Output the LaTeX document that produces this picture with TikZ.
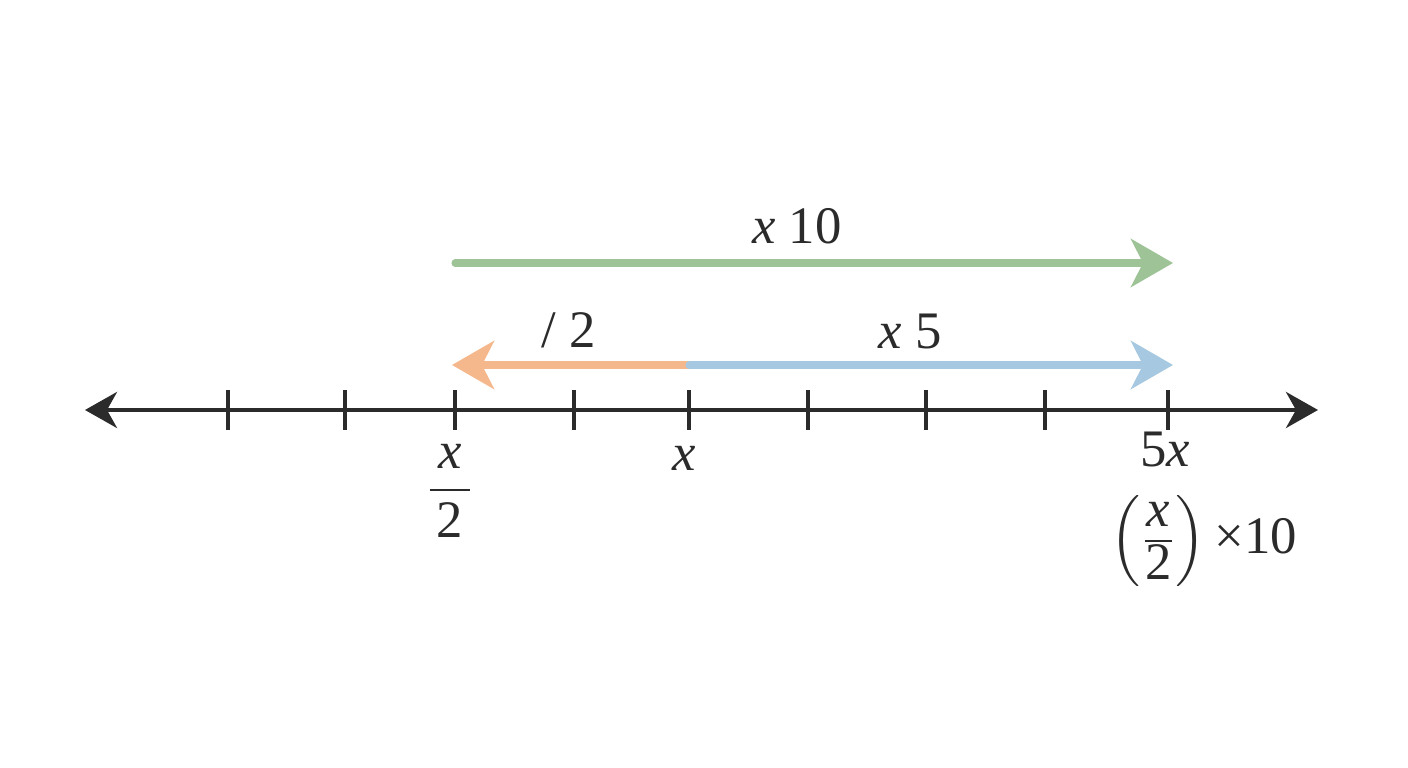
\documentclass[tikz,border=0pt]{standalone}
\usepackage{amsmath}
\usepackage{fontspec}
\setmainfont{Liberation Serif}
\usetikzlibrary{arrows.meta}

\definecolor{lineBlack}{RGB}{43,43,43}
\definecolor{timesGreen}{RGB}{157,195,150}
\definecolor{divOrange}{RGB}{244,184,140}
\definecolor{timesBlue}{RGB}{166,200,224}

\begin{document}
\begin{tikzpicture}[
        numLine/.style = {draw=lineBlack,line width=1.2pt,{Stealth[length=3.2mm,width=3.6mm,inset=1mm]}-{Stealth[length=3.2mm,width=3.6mm,inset=1mm]}},
        tickMark/.style = {draw=lineBlack,line width=1pt},
        opArrow/.style = {line width=2pt,line cap=round,-{Stealth[length=4.2mm,width=4.8mm,inset=1.2mm]}},
        opLabel/.style = {text=lineBlack,font=\fontsize{15}{18}\selectfont,inner sep=1pt},
        valLabel/.style = {text=lineBlack,font=\fontsize{15}{18}\selectfont,inner sep=1pt}
        ]
        \useasboundingbox (0,0) rectangle (14.08,7.68);
        % number line
        \coordinate (left) at (0.85,3.58);
        \coordinate (right) at (13.18,3.58);
        \draw[numLine] (left) -- (right);
        \foreach \x [count=\i] in {2.28,3.45,4.55,5.74,6.89,8.08,9.26,10.45,11.68}
        \draw[tickMark] (\x,3.38) coordinate (b\i) -- (\x,3.78) coordinate (t\i);
        % operation arrows
        \coordinate (gStart) at (4.55,5.05);
        \coordinate (gEnd) at (11.73,5.05);
        \coordinate (mid) at (6.89,4.03);
        \coordinate (oEnd) at (4.52,4.03);
        \coordinate (bEnd) at (11.73,4.03);
        \draw[opArrow,timesGreen] (gStart) -- (gEnd);
        \draw[opArrow,divOrange] (mid) -- (oEnd);
        \draw[opArrow,timesBlue] (mid) -- (bEnd);
        \node[opLabel] (timesTen) at (7.97,5.42) {\itshape x\upshape\ 10};
        \node[opLabel] (halve) at (5.69,4.38) {/ 2};
        \node[opLabel] (timesFive) at (9.10,4.36) {\itshape x\upshape\ 5};
        % values
        \node[valLabel] (halfX) at (4.50,2.77) {$\dfrac{\mbox{\,\itshape x\,}}{\mbox{2}}$};
        \node[valLabel] (oneX) at (6.84,3.10) {\itshape x};
        \node[valLabel] (fiveX) at (11.65,3.18) {5\itshape x};
        \node[valLabel,inner sep=0pt] (fiveXalt) at (12.04,2.27) {$\Bigl(\frac{\raisebox{2pt}{\itshape x}}{\raisebox{-2.5pt}{2}}\Bigr)$\,×10};
    \end{tikzpicture}
\end{document}
